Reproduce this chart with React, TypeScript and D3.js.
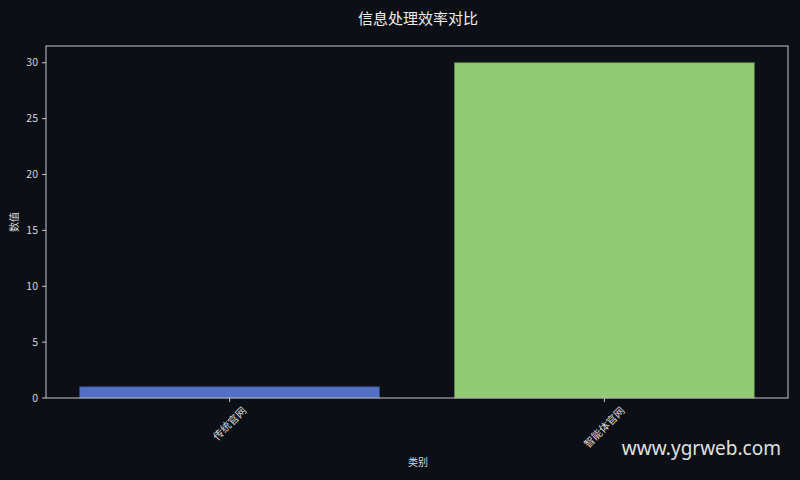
import React from 'react';
import * as d3 from 'd3';

const categories = ['传统官网', '智能体官网'];
const values = [1, 30];
const barColors = ['#5470c6', '#91cc75'];
const yTicks = [0, 5, 10, 15, 20, 25, 30];

const W = 800;
const H = 480;
const margin = { top: 46, right: 12, bottom: 82, left: 46 };
const font = '"Noto Sans CJK SC", "DejaVu Sans", sans-serif';
const bg = '#0c0f16';
const fg = '#d8d8d8';
const tickFs = 10.5;

export default function App() {
  const x = d3
    .scaleLinear()
    .domain([-0.49, categories.length - 1 + 0.49])
    .range([margin.left, W - margin.right]);
  const y = d3
    .scaleLinear()
    .domain([0, 31.5])
    .range([H - margin.bottom, margin.top]);
  const barW = x(0.8) - x(0);

  return (
    <svg
      width={W}
      height={H}
      style={{ position: 'absolute', left: 0, top: 0, background: bg }}
      fontFamily={font}
    >
      <rect width={W} height={H} fill={bg} />
      <text x={W / 2 + 18} y={24} textAnchor="middle" fill="#ececec" fontSize={15}>
        信息处理效率对比
      </text>

      {values.map((v, i) => (
        <rect
          key={categories[i]}
          x={x(i) - barW / 2}
          y={y(v)}
          width={barW}
          height={y(0) - y(v)}
          fill={barColors[i]}
          stroke={d3.color(barColors[i])!.darker(1.2).formatHex()}
          strokeWidth={0.8}
        />
      ))}

      <rect
        x={margin.left}
        y={margin.top}
        width={W - margin.left - margin.right}
        height={H - margin.top - margin.bottom}
        fill="none"
        stroke="#c8c8c8"
        strokeWidth={1}
      />

      {yTicks.map((t) => (
        <g key={t} transform={`translate(${margin.left},${y(t)})`}>
          <line x1={-4} x2={0} stroke="#c8c8c8" />
          <text x={-8} dy="0.35em" textAnchor="end" fill={fg} fontSize={tickFs}>
            {t}
          </text>
        </g>
      ))}

      {categories.map((c, i) => {
        // rotated label centred under the tick, its box top just below the tick
        const halfH = ((c.length * tickFs + tickFs) * Math.SQRT1_2) / 2;
        return (
          <g key={c} transform={`translate(${x(i)},${y(0)})`}>
            <line y1={0} y2={4} stroke="#c8c8c8" />
            <text
              transform={`translate(0,${7 + halfH}) rotate(-45)`}
              textAnchor="middle"
              dy="0.35em"
              fill={fg}
              fontSize={tickFs}
            >
              {c}
            </text>
          </g>
        );
      })}

      <text x={418} y={466} textAnchor="middle" fill={fg} fontSize={10}>
        类别
      </text>
      <text
        transform={`translate(18,${(margin.top + H - margin.bottom) / 2}) rotate(-90)`}
        textAnchor="middle"
        fill={fg}
        fontSize={10}
      >
        数值
      </text>

      <text x={781} y={455} textAnchor="end" fill="#e0e0e0" fontSize={19} fontFamily='"Noto Sans", sans-serif'>
        www.ygrweb.com
      </text>
    </svg>
  );
}
